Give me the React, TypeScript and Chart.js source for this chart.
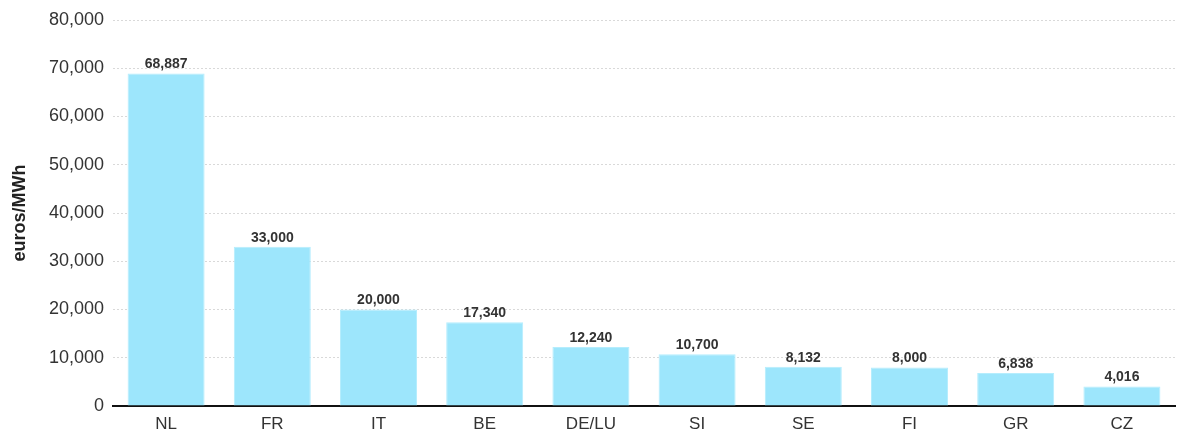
import React, { useEffect, useRef } from "react";
import { Chart, registerables } from "chart.js";

Chart.register(...registerables);

const categories = ["NL", "FR", "IT", "BE", "DE/LU", "SI", "SE", "FI", "GR", "CZ"];
const values = [68887, 33000, 20000, 17340, 12240, 10700, 8132, 8000, 6838, 4016];
const yTicks = [0, 10000, 20000, 30000, 40000, 50000, 60000, 70000, 80000];
const yTitle = "euros/MWh";

const FONT = "'Liberation Sans', Arial, sans-serif";

const labelPlugin = {
  id: "barLabels",
  afterDatasetsDraw(chart: any) {
    const ctx = chart.ctx;
    const meta = chart.getDatasetMeta(0);
    ctx.save();
    ctx.font = `bold 14px ${FONT}`;
    ctx.fillStyle = "#333333";
    ctx.textAlign = "center";
    ctx.textBaseline = "bottom";
    meta.data.forEach((bar: any, i: number) => {
      ctx.fillText(values[i].toLocaleString("en-US"), bar.x, bar.y - 2);
    });
    ctx.restore();
  },
};

export default function App() {
  const ref = useRef<HTMLCanvasElement>(null);
  useEffect(() => {
    if (!ref.current) return;
    const chart = new Chart(ref.current, {
      type: "bar",
      data: {
        labels: categories,
        datasets: [
          {
            data: values,
            backgroundColor: "#9DE6FC",
            borderColor: "#B5EDFD",
            borderWidth: 1,
            categoryPercentage: 1,
            barPercentage: 0.725,
          },
        ],
      },
      options: {
        responsive: false,
        animation: false,
        layout: { padding: { top: 20, right: 6, left: 0, bottom: 0 } },
        plugins: { legend: { display: false }, tooltip: { enabled: false } },
        scales: {
          x: {
            grid: { display: false, drawTicks: false },
            border: { display: true, color: "#111111", width: 2 },
            ticks: { color: "#333333", font: { family: FONT, size: 17 }, padding: 8 },
            afterFit(scale: any) {
              scale.height = 32;
            },
          },
          y: {
            min: 0,
            max: 80000,
            afterBuildTicks(scale: any) {
              scale.ticks = yTicks.map((v) => ({ value: v }));
            },
            grid: { color: "#d9d9d9", lineWidth: 1, drawTicks: false },
            border: { display: false, dash: [2, 2] },
            ticks: {
              color: "#333333",
              font: { family: FONT, size: 18 },
              padding: 9,
              callback: (v: any) => Number(v).toLocaleString("en-US"),
            },
            title: {
              display: true,
              text: yTitle,
              color: "#222222",
              font: { family: FONT, size: 18, weight: "bold" },
              padding: { top: 9, bottom: 4 },
            },
            afterFit(scale: any) {
              scale.width = 113;
            },
          },
        },
      },
      plugins: [labelPlugin],
    });
    return () => chart.destroy();
  }, []);
  return (
    <div style={{ position: "fixed", left: 0, top: 0, width: 1181, height: 438, background: "#fff" }}>
      <canvas ref={ref} width={1181} height={438} style={{ width: 1181, height: 438 }} />
    </div>
  );
}
